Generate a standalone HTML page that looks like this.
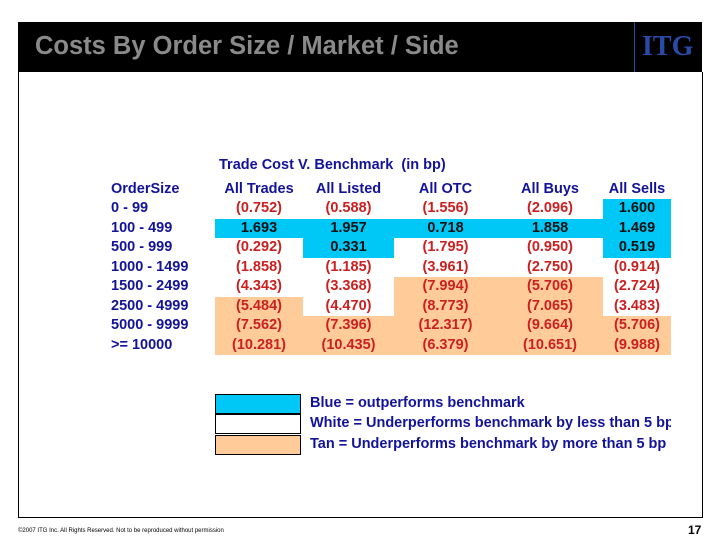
<!DOCTYPE html>
<html><head><meta charset="utf-8"><style>
body{margin:0;width:720px;height:540px;background:#fff;font-family:"Liberation Sans",Arial,sans-serif;position:relative;overflow:hidden}
#hdr{position:absolute;left:18px;top:22px;width:684px;height:50px;background:#000}
#ttl{position:absolute;left:17px;top:10px;color:#8a8a8a;font-size:25.5px;font-weight:bold}
#vl{position:absolute;left:616px;top:0;width:1px;height:50px;background:#2b4a9a}
#itg{position:absolute;left:624px;top:9px;color:#2a4aa8;font-family:"Liberation Serif",serif;font-weight:bold;font-size:28px}
#frame{position:absolute;left:18px;top:72px;width:683px;height:445px;border-left:1px solid #000;border-right:1px solid #000;border-bottom:1px solid #000}
.t{position:absolute;font-weight:bold;font-size:14.5px;white-space:nowrap;line-height:19.5px}
.nv{color:#13139a}
.cell{position:absolute;text-align:center}
#clip{position:absolute;left:0;top:0;width:671px;height:540px;overflow:hidden}
</style></head><body>
<div id="hdr">
<div id="ttl">Costs By Order Size / Market / Side</div>
<div id="vl"></div>
<div id="itg">ITG</div>
</div>
<div id="frame"></div>
<div class="t nv" style="left:219px;top:156px">Trade Cost V. Benchmark &nbsp;(in bp)</div>
<div id="clip"></div>
<div class="t" style="left:18px;top:527px;font-size:6px;font-weight:normal;line-height:8px">©2007 ITG Inc. All Rights Reserved. Not to be reproduced without permission</div>
<div class="t" style="left:688px;top:521px;font-size:12px;color:#000">17</div>
<script>
const rows=["0 - 99","100 - 499","500 - 999","1000 - 1499","1500 - 2499","2500 - 4999","5000 - 9999",">= 10000"];
const cols=["All Trades","All Listed","All OTC","All Buys","All Sells"];
const allTrades=[-0.752,1.693,-0.292,-1.858,-4.343,-5.484,-7.562,-10.281];
const allListed=[-0.588,1.957,0.331,-1.185,-3.368,-4.470,-7.396,-10.435];
const allOTC=[-1.556,0.718,-1.795,-3.961,-7.994,-8.773,-12.317,-6.379];
const allBuys=[-2.096,1.858,-0.950,-2.750,-5.706,-7.065,-9.664,-10.651];
const allSells=[1.600,1.469,0.519,-0.914,-2.724,-3.483,-5.706,-9.988];
const legendLabels=["Blue = outperforms benchmark","White = Underperforms benchmark by less than 5 bp","Tan = Underperforms benchmark by more than 5 bp"];
const series=[allTrades,allListed,allOTC,allBuys,allSells];
const colX=[215,303,394,497,603,671];
const rowY=i=>199+i*19.5;
const clip=document.getElementById('clip');
function mk(cls,txt,css){const d=document.createElement('div');d.className=cls;if(txt!=null)d.textContent=txt;Object.assign(d.style,css);clip.appendChild(d);return d;}
let h=mk('t nv','OrderSize',{left:'111px',top:(rowY(-1))+'px'});


cols.forEach((c,j)=>{const d=mk('t nv cell',c,{left:colX[j]+'px',width:(colX[j+1]-colX[j])+'px',top:rowY(-1)+'px'});

});
rows.forEach((r,i)=>{const d=mk('t nv',r,{left:'111px',top:rowY(i)+'px'});


series.forEach((s,j)=>{const v=s[i];const bg=v>0?'#00c8f6':(v<-5?'#ffcc99':'transparent');
const txt=v>0?v.toFixed(3):'('+Math.abs(v).toFixed(3)+')';
const c=mk('t cell',txt,{left:colX[j]+'px',width:(colX[j+1]-colX[j])+'px',top:rowY(i)+'px',height:'19.5px',background:bg,color:v>0?'#111':'#cc2020'});

});});
const lc=['#00c8f6','#fff','#ffcc99'];
legendLabels.forEach((l,i)=>{const b=mk('',null,{position:'absolute',left:'215px',top:(394+i*20.3)+'px',width:'84px',height:'18px',background:lc[i],border:'1.5px solid #000'});


const t=mk('t nv',l,{left:'310px',top:(394+i*20.3)+'px'});

});
</script>
</body></html>
